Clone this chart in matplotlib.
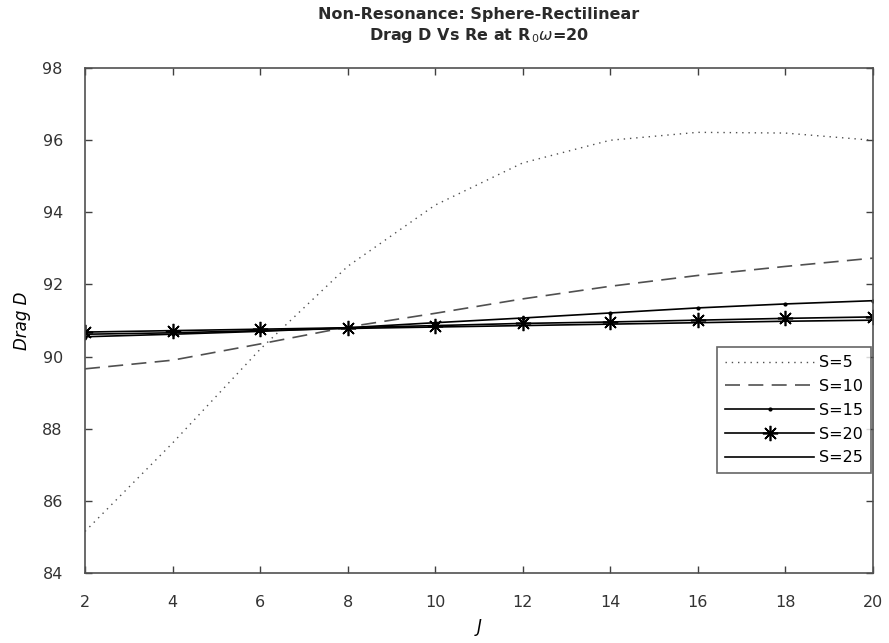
import matplotlib
matplotlib.use("Agg")
import matplotlib.pyplot as plt

# Reynolds-type parameter J on the horizontal axis
J = [2, 4, 6, 8, 10, 12, 14, 16, 18, 20]

# Drag D for each S value
drag_s5 = [85.15, 87.6, 90.2, 92.5, 94.2, 95.37, 96.0, 96.22, 96.2, 96.0]
drag_s10 = [89.66, 89.9, 90.35, 90.82, 91.2, 91.6, 91.95, 92.25, 92.5, 92.73]
drag_s15 = [90.55, 90.62, 90.70, 90.80, 90.94, 91.07, 91.21, 91.35, 91.46, 91.55]
drag_s20 = [90.68, 90.72, 90.76, 90.80, 90.86, 90.92, 90.96, 91.01, 91.06, 91.10]
drag_s25 = [90.62, 90.66, 90.72, 90.78, 90.82, 90.86, 90.90, 90.94, 90.98, 91.01]

labels = ["S=5", "S=10", "S=15", "S=20", "S=25"]
x_ticks = [2, 4, 6, 8, 10, 12, 14, 16, 18, 20]
y_ticks = [84, 86, 88, 90, 92, 94, 96, 98]

plt.rcParams["font.family"] = ["DejaVu Sans"]

fig = plt.figure(figsize=(8.89, 6.43), dpi=100)
ax = fig.add_axes([0.0956, 0.109, 0.886, 0.785])

ax.plot(J, drag_s5, color="#505050", lw=1.0, linestyle=(0, (1, 3.5)), label=labels[0])
ax.plot(J, drag_s10, color="#505050", lw=1.2, linestyle=(0, (9, 5)), label=labels[1])
ax.plot(J, drag_s15, color="black", lw=1.2, marker=".", markersize=4, label=labels[2])
ax.plot(J, drag_s20, color="black", lw=1.2, marker=(8, 2, 0), markersize=11,
        markeredgewidth=1.2, label=labels[3])
ax.plot(J, drag_s25, color="black", lw=1.2, label=labels[4])

ax.set_xlim(2, 20)
ax.set_ylim(84, 98)
ax.set_xticks(x_ticks)
ax.set_yticks(y_ticks)
ax.tick_params(direction="in", top=True, right=True, length=5, width=1,
               color="#404040", labelsize=11.5, labelcolor="#333333")
ax.tick_params(axis="x", pad=16)
ax.tick_params(axis="y", pad=16)
for sp in ax.spines.values():
    sp.set_color("#505050")
    sp.set_linewidth(1.2)

ax.set_title("Non-Resonance: Sphere-Rectilinear\nDrag D Vs Re at R$_{\\,0}\\omega$=20",
             fontsize=11.5, fontweight="bold", color="#2a2a2a", pad=20, linespacing=1.3)
ax.set_ylabel("Drag D", fontsize=12, style="italic", labelpad=8)
ax.set_xlabel("J", fontsize=12, style="italic", labelpad=6)

leg = ax.legend(loc="upper right", bbox_to_anchor=(0.998, 0.447), fontsize=11.5,
                frameon=True, fancybox=False, edgecolor="#404040",
                handlelength=5.6, labelspacing=0.55, borderpad=0.5,
                handletextpad=0.3, borderaxespad=0.0)
leg.get_frame().set_linewidth(1.2)

fig.savefig("out.png", dpi=100)
